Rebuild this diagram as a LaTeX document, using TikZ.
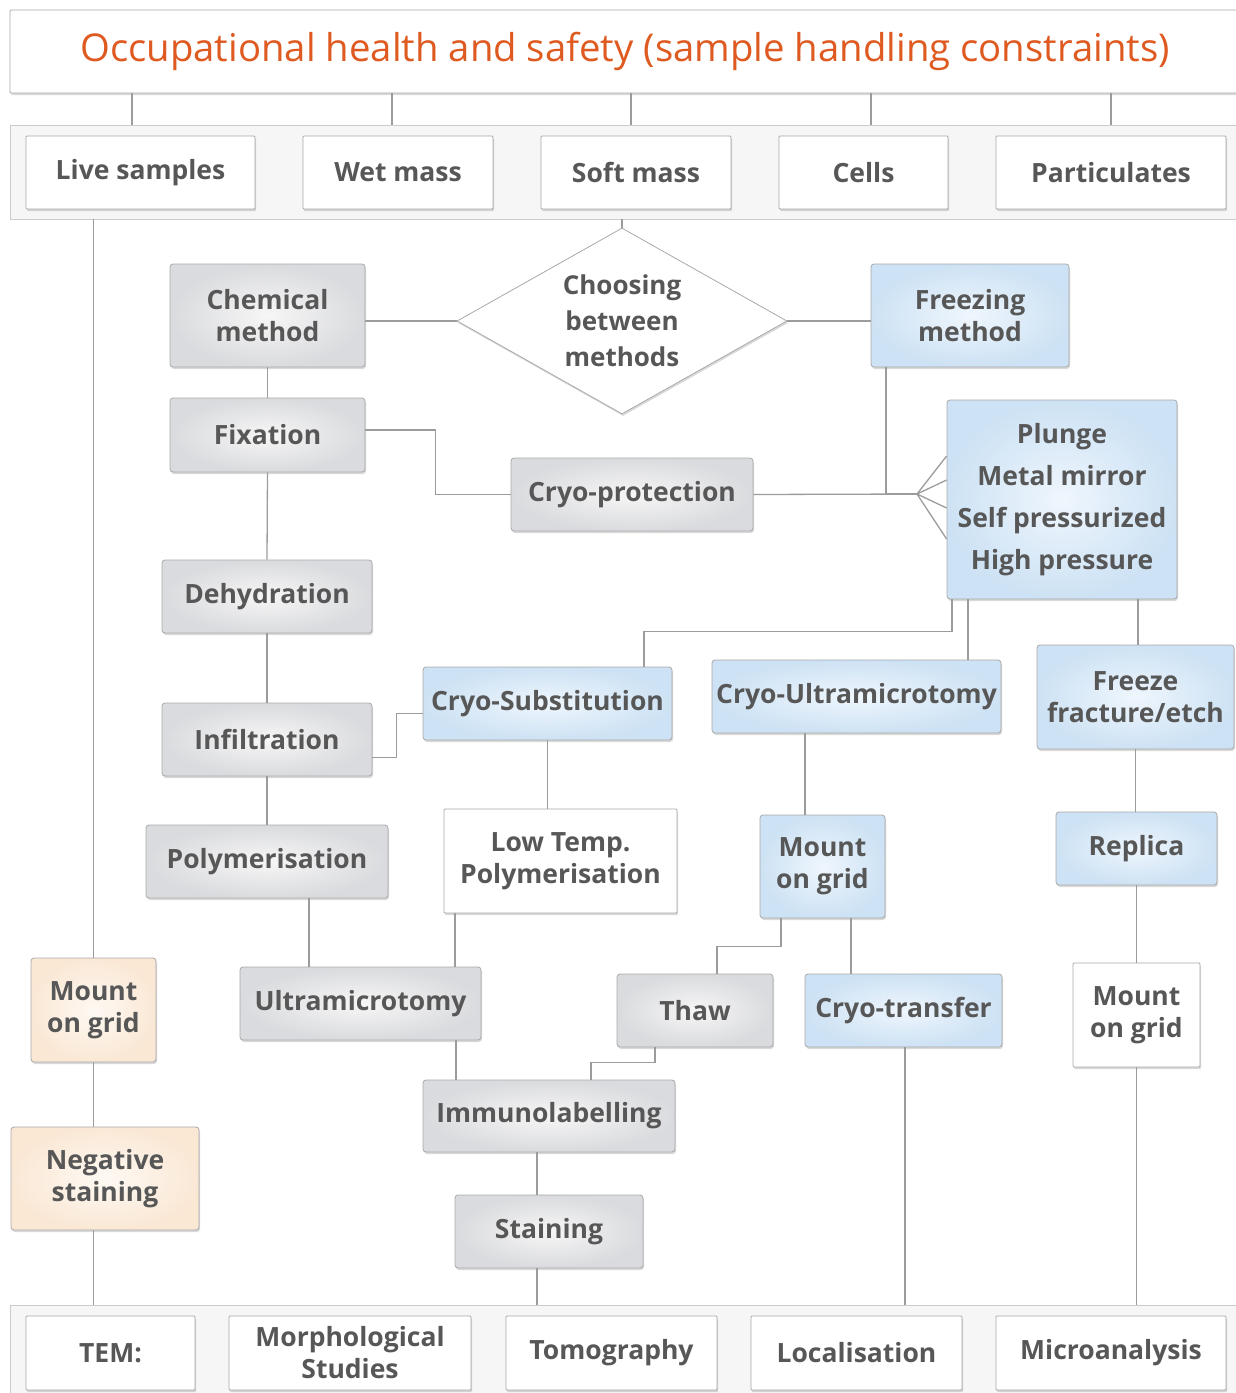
\documentclass[tikz,border=0pt]{standalone}
\usepackage{fontspec}
\setmainfont{Open Sans}
\usetikzlibrary{shapes.geometric,shadows}

\definecolor{linegrey}{HTML}{9C9C9C}
\definecolor{boxedge}{HTML}{A9A9A9}
\definecolor{boxtext}{HTML}{575757}
\definecolor{titleorange}{HTML}{DF5A20}
\definecolor{bandfill}{HTML}{F6F6F6}
\definecolor{greyin}{HTML}{F6F6F6}
\definecolor{greyout}{HTML}{DADBDE}
\definecolor{bluein}{HTML}{EFF6FD}
\definecolor{blueout}{HTML}{CDE2F4}
\definecolor{orangein}{HTML}{FEF9F3}
\definecolor{orangeout}{HTML}{FAE8D5}

\tikzset{
  conn/.style={draw=linegrey, line width=1.3pt},
  sz/.style 2 args={minimum width=#1pt, minimum height=#2pt},
  box/.style={rectangle, rounded corners=3pt, draw=boxedge, line width=0.8pt,
    text=boxtext, align=center, inner sep=0pt,
    font=\bfseries\fontsize{26.5}{32}\selectfont,
    drop shadow={opacity=0.3, shadow xshift=1pt, shadow yshift=-2pt}},
  greybox/.style={box, inner color=greyin, outer color=greyout},
  bluebox/.style={box, inner color=bluein, outer color=blueout},
  orangebox/.style={box, inner color=orangein, outer color=orangeout},
  whitebox/.style={box, rounded corners=1pt, fill=white},
  band/.style={rectangle, draw=boxedge!60, fill=bandfill, line width=0.8pt, inner sep=0pt}
}

\begin{document}
\begin{tikzpicture}[x=1pt, y=-1pt]
\useasboundingbox (0,0) rectangle (1236,1393);
% header and sample types
\node[whitebox, sz={1230}{83}, font=\fontsize{38.3}{44}\selectfont, text=titleorange] (title) at (625,51.5)
  {Occupational health and safety (sample handling constraints)};
\node[band, sz={1230}{94}] (topband) at (625,172) {};
\node[whitebox, sz={229}{73}] (live) at (140.5,172.5) {Live samples};
\node[whitebox, sz={190}{73}] (wet) at (398,172.5) {Wet mass};
\node[whitebox, sz={190}{73}] (soft) at (636,172.5) {Soft mass};
\node[whitebox, sz={169}{73}] (cells) at (863.5,172.5) {Cells};
\node[whitebox, sz={230}{73}] (partic) at (1111,172.5) {Particulates};
\foreach \xx in {132,392,631,871,1111}
  \draw[conn] (title.south -| \xx,0) -- (topband.north -| \xx,0);

% choice of method
\node[diamond, draw=boxedge, line width=0.8pt, fill=white, inner sep=0pt, sz={330}{186},
  drop shadow={opacity=0.3, shadow xshift=1pt, shadow yshift=-2pt}] (choose) at (622,321) {};
\node[text=boxtext, align=center, inner sep=0pt, font=\bfseries\fontsize{26}{36}\selectfont]
  (choosetxt) at (choose.center) {Choosing\\between\\methods};
\node[greybox, sz={195}{103}] (chem) at (267.5,315.5) {Chemical\\method};
\node[bluebox, sz={198}{103}] (freeze) at (970,315.5) {Freezing\\method};
\node[greybox, sz={195}{74}] (fix) at (267.5,435) {Fixation};
\node[greybox, sz={242}{73}] (cryop) at (632,494.5) {Cryo-protection};
\node[bluebox, sz={230}{199}, font=\bfseries\fontsize{26.5}{42}\selectfont] (plunge) at (1062,499.5)
  {Plunge\\Metal mirror\\Self pressurized\\High pressure};

% chemical route
\node[greybox, sz={210}{73}] (dehyd) at (267,596.5) {Dehydration};
\node[greybox, sz={210}{73}] (infil) at (267,739.5) {Infiltration};
\node[greybox, sz={242}{73}] (polym) at (267,861.5) {Polymerisation};
\node[greybox, sz={241}{73}] (ultra) at (360.5,1003.5) {Ultramicrotomy};
\node[greybox, sz={252}{72}] (immuno) at (549,1116) {Immunolabelling};
\node[greybox, sz={188}{73}] (staining) at (549,1231.5) {Staining};

% freezing routes
\node[bluebox, sz={249}{73}] (cryosub) at (547.5,703.5) {Cryo-Substitution};
\node[whitebox, sz={233}{104}] (lowtemp) at (560.5,861) {Low Temp.\\Polymerisation};
\node[bluebox, sz={289}{73}] (cryoultra) at (856.5,696.5) {Cryo-Ultramicrotomy};
\node[bluebox, sz={125}{103}] (mmount) at (822.5,866.5) {Mount\\on grid};
\node[greybox, sz={156}{73}] (thaw) at (695,1010.5) {Thaw};
\node[bluebox, sz={197}{73}] (ctrans) at (903.5,1010.5) {Cryo-transfer};
\node[bluebox, sz={197}{104}] (ffe) at (1135.5,697) {Freeze\\fracture/etch};
\node[bluebox, sz={161}{73}] (replica) at (1136.5,848.5) {Replica};
\node[whitebox, sz={127}{104}] (rmount) at (1136.5,1015) {Mount\\on grid};

% particulates
\node[orangebox, sz={125}{104}] (lmount) at (93.5,1010) {Mount\\on grid};
\node[orangebox, sz={188}{103}] (negstain) at (105,1178.5) {Negative\\staining};

% TEM applications
\node[band, sz={1230}{95}] (botband) at (625,1352.5) {};
\node[whitebox, sz={169}{74}] (tem) at (110.5,1353) {TEM:};
\node[whitebox, sz={242}{74}] (morph) at (350,1353) {Morphological\\Studies};
\node[whitebox, sz={211}{74}] (tomo) at (611.5,1353) {Tomography};
\node[whitebox, sz={211}{74}] (local) at (856.5,1353) {Localisation};
\node[whitebox, sz={230}{74}] (micro) at (1111,1353) {Microanalysis};

% connectors
\draw[conn] (topband.south -| choose.north) -- (choose.north);
\draw[conn] (choose.west) -- (choose.west -| chem.east);
\draw[conn] (choose.east) -- (choose.east -| freeze.west);
\draw[conn] (chem.south) -- (fix.north);
\draw[conn] ([yshift=5pt]fix.east) -- ++(70,0) |- (cryop.west);
\coordinate (foot) at (917,494);
\draw[conn] (cryop.east) -- (foot);
\draw[conn] (freeze.south -| 886,0) |- (foot);
\foreach \yy in {456,480,508,539}
  \draw[conn] (foot) -- (plunge.west |- 0,\yy);
\draw[conn] (fix.south) -- (dehyd.north);
\draw[conn] (dehyd.south) -- (infil.north);
\draw[conn] ([yshift=-18pt]infil.east) -- ++(24,0) |- ([yshift=-10pt]cryosub.west);
\draw[conn] (infil.south) -- (polym.north);
\draw[conn] (polym.south -| 309,0) -- (ultra.north -| 309,0);
\draw[conn] (cryosub.south) -- (cryosub.south |- lowtemp.north);
\draw[conn] (lowtemp.south -| 455,0) -- (ultra.north -| 455,0);
\draw[conn] (ultra.south -| 456,0) -- (immuno.north -| 456,0);
\draw[conn] (immuno.south -| 537,0) -- (staining.north -| 537,0);
\draw[conn] (staining.south -| 537,0) -- (botband.north -| 537,0);
\draw[conn] (plunge.south -| 952,0) -- ++(0,32) -| (cryosub.north -| 644,0);
\draw[conn] (plunge.south -| 968,0) -- (cryoultra.north -| 968,0);
\draw[conn] (plunge.south -| 1138,0) -- (ffe.north -| 1138,0);
\draw[conn] (cryoultra.south -| 805,0) -- (mmount.north -| 805,0);
\draw[conn] (mmount.south -| 781,0) -- ++(0,28) -| (thaw.north -| 717,0);
\draw[conn] (mmount.south -| 851,0) -- (ctrans.north -| 851,0);
\draw[conn] (thaw.south -| 655,0) -- ++(0,15) -| (immuno.north -| 591,0);
\draw[conn] (ctrans.south -| 905,0) -- (botband.north -| 905,0);
\draw[conn] (ffe.south) -- (ffe.south |- replica.north);
\draw[conn] (replica.south) -- (rmount.north);
\draw[conn] (rmount.south) -- (rmount.south |- botband.north);
\draw[conn] (topband.south -| lmount.north) -- (lmount.north);
\draw[conn] (lmount.south) -- (lmount.south |- negstain.north);
\draw[conn] (negstain.south -| lmount.south) -- (botband.north -| lmount.south);
\end{tikzpicture}
\end{document}
